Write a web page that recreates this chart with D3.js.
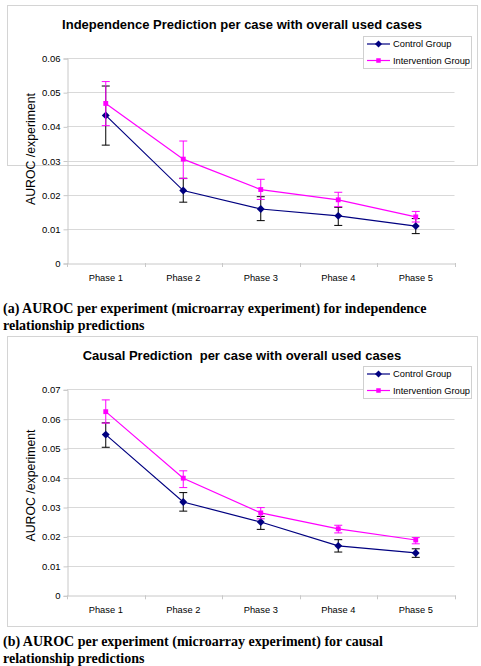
<!DOCTYPE html>
<html><head><meta charset="utf-8">
<script src="https://cdn.jsdelivr.net/npm/d3@7"></script>
<style>body{margin:0;background:#fff;} svg{display:block;}</style>
</head><body>
<svg id="c" width="481" height="666"></svg>
<script>
const phases = ["Phase 1","Phase 2","Phase 3","Phase 4","Phase 5"];
const seriesNames = ["Control Group","Intervention Group"];

// Chart (a): independence
const indTicks = [0,0.01,0.02,0.03,0.04,0.05,0.06];
const indControl = [0.0432,0.0212,0.0158,0.0138,0.0108];
const indControlHi = [0.0518,0.0248,0.0194,0.0163,0.0130];
const indControlLo = [0.0345,0.0178,0.0124,0.0110,0.0086];
const indInterv = [0.0467,0.0304,0.0215,0.0185,0.0135];
const indIntervHi = [0.0531,0.0357,0.0245,0.0207,0.0151];
const indIntervLo = [0.0402,0.0247,0.0186,0.0165,0.0120];

// Chart (b): causal
const cauTicks = [0,0.01,0.02,0.03,0.04,0.05,0.06,0.07];
const cauControl = [0.0546,0.0317,0.0249,0.0168,0.0144];
const cauControlHi = [0.0586,0.0349,0.0268,0.0189,0.0158];
const cauControlLo = [0.0503,0.0286,0.0224,0.0147,0.0129];
const cauInterv = [0.0624,0.0398,0.0280,0.0226,0.0188];
const cauIntervHi = [0.0664,0.0423,0.0298,0.0238,0.0196];
const cauIntervLo = [0.0585,0.0366,0.0260,0.0212,0.0175];

const svg = d3.select("#c");
const ctrlColor = "#000080", intColor = "#ff00ff";
const sans = "Liberation Sans, Arial, sans-serif";

function drawChart(o){
  const g = svg.append("g");
  g.append("rect").attr("x",7.5).attr("y",o.frameTop+0.5).attr("width",470).attr("height",o.frameH)
    .attr("fill","#fff").attr("stroke","#d4d4d4");
  g.append("text").attr("x",242).attr("y",o.titleY).attr("text-anchor","middle")
    .attr("font-family",sans).attr("font-weight","bold").attr("font-size",13)
    .style("white-space","pre").text(o.title);
  const x = d3.scaleBand().domain(phases).range([67,454.5]);
  const y = d3.scaleLinear().domain([0,o.max]).range([o.y0,o.yTop]);
  g.append("g").selectAll("line").data(o.ticks.slice(1)).join("line")
    .attr("x1",67).attr("x2",454.5).attr("y1",d=>Math.round(y(d))+0.5).attr("y2",d=>Math.round(y(d))+0.5)
    .attr("stroke","#d9d9d9");
  const ya = g.append("g").attr("transform","translate(67.5,0.5)")
    .call(d3.axisLeft(y).tickValues(o.ticks).tickFormat(d=>d===0?"0":d3.format(".2f")(d)).tickSize(4).tickPadding(3));
  ya.select(".domain").attr("stroke","#c8c8c8");
  ya.selectAll(".tick line").attr("stroke","#c8c8c8");
  ya.selectAll("text").attr("font-family",sans).attr("font-size",9.5).attr("fill","#000");
  const xa = g.append("g").attr("transform",`translate(0,${Math.round(o.y0)+0.5})`)
    .call(d3.axisBottom(x).tickSize(0).tickPadding(11));
  xa.select(".domain").attr("stroke","#c8c8c8");
  xa.selectAll("text").attr("font-family",sans).attr("font-size",9.3).attr("fill","#000");
  g.append("g").selectAll("line").data(phases.concat(["end"])).join("line")
    .attr("x1",(d,i)=>Math.round(67+i*x.step())+0.5).attr("x2",(d,i)=>Math.round(67+i*x.step())+0.5)
    .attr("y1",o.y0).attr("y2",o.y0+4).attr("stroke","#c8c8c8");
  g.append("text").attr("transform",`translate(34.5,${o.labelY}) rotate(-90)`).attr("text-anchor","middle")
    .attr("font-family",sans).attr("font-size",12.3).text("AUROC /experiment");

  const cx = d => x(d)+x.bandwidth()/2;
  const series = [
    {v:o.ctrl, hi:o.ctrlHi, lo:o.ctrlLo, color:ctrlColor, err:"#000", sym:d3.symbolDiamond2},
    {v:o.int, hi:o.intHi, lo:o.intLo, color:intColor, err:intColor, sym:d3.symbolSquare2}
  ];
  series.forEach((s,si)=>{
    const sg = g.append("g");
    phases.forEach((p,i)=>{
      const px = cx(p);
      sg.append("line").attr("x1",px).attr("x2",px).attr("y1",y(s.hi[i])).attr("y2",y(s.lo[i])).attr("stroke",s.err);
      [s.hi[i],s.lo[i]].forEach(v=>sg.append("line").attr("x1",px-4).attr("x2",px+4).attr("y1",y(v)).attr("y2",y(v)).attr("stroke",s.err));
    });
    sg.append("path").datum(s.v).attr("fill","none").attr("stroke",s.color).attr("stroke-width",1.2)
      .attr("d",d3.line().x((d,i)=>cx(phases[i])).y(d=>y(d)));
    sg.selectAll("path.m").data(s.v).join("path").attr("class","m")
      .attr("transform",(d,i)=>`translate(${cx(phases[i])},${y(d)})`)
      .attr("d",d3.symbol().type(s.sym).size(si===0?40:30)).attr("fill",s.color);
  });
  const lg = g.append("g");
  lg.append("rect").attr("x",363.5).attr("y",o.legY+0.5).attr("width",108).attr("height",32)
    .attr("fill","#fff").attr("stroke","#d0d0d0");
  series.forEach((s,i)=>{
    const ly = o.legY+8+i*16.5;
    lg.append("line").attr("x1",367).attr("x2",390).attr("y1",ly).attr("y2",ly).attr("stroke",s.color).attr("stroke-width",1.2);
    lg.append("path").attr("transform",`translate(378.5,${ly})`).attr("d",d3.symbol().type(s.sym).size(i===0?32:26)).attr("fill",s.color);
    lg.append("text").attr("x",393).attr("y",ly).attr("dy","0.35em")
      .attr("font-family",sans).attr("font-size",9.3).text(seriesNames[i]);
  });
  o.caption.forEach((t,i)=>{
    svg.append("text").attr("x",3).attr("y",o.capY+i*17).attr("font-family","Liberation Serif, Times New Roman, serif")
      .attr("font-weight","bold").attr("font-size",14).text(t);
  });
}

drawChart({frameTop:5, frameH:160, title:"Independence Prediction per case with overall used cases", titleY:28.5,
  ticks:indTicks, max:0.06, y0:263, yTop:58, labelY:149,
  ctrl:indControl, ctrlHi:indControlHi, ctrlLo:indControlLo, int:indInterv, intHi:indIntervHi, intLo:indIntervLo,
  legY:36, capY:313, caption:["(a) AUROC per experiment (microarray experiment) for independence","relationship predictions"]});

drawChart({frameTop:336, frameH:290, title:"Causal Prediction  per case with overall used cases", titleY:359.5,
  ticks:cauTicks, max:0.07, y0:595.3, yTop:389.3, labelY:485.5,
  ctrl:cauControl, ctrlHi:cauControlHi, ctrlLo:cauControlLo, int:cauInterv, intHi:cauIntervHi, intLo:cauIntervLo,
  legY:366, capY:646, caption:["(b) AUROC per experiment (microarray experiment) for causal","relationship predictions"]});
</script>
</body></html>
